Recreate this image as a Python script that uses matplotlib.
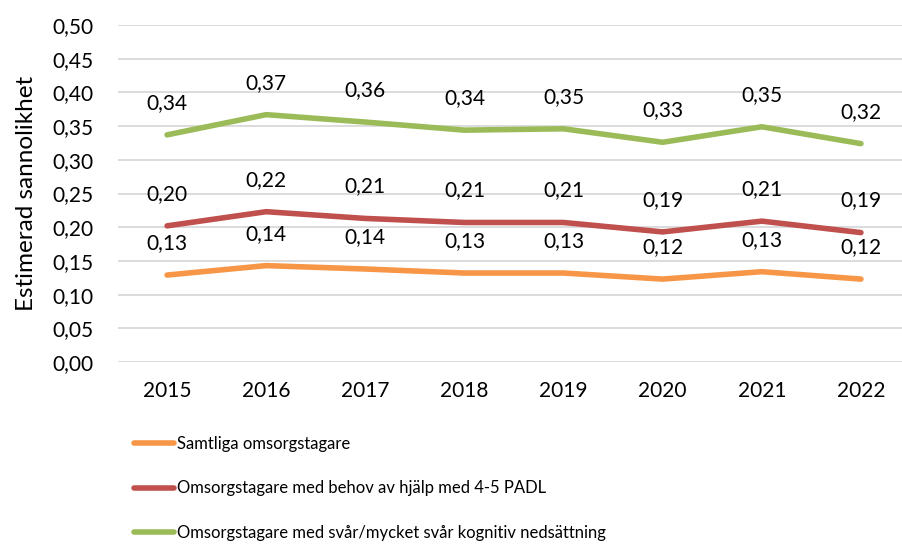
import matplotlib
matplotlib.use("Agg")
import matplotlib.pyplot as plt
import numpy as np

years = ["2015", "2016", "2017", "2018", "2019", "2020", "2021", "2022"]
samtliga = [0.129, 0.143, 0.138, 0.132, 0.132, 0.123, 0.134, 0.123]
padl = [0.202, 0.223, 0.213, 0.207, 0.207, 0.193, 0.209, 0.192]
kognitiv = [0.337, 0.367, 0.356, 0.344, 0.346, 0.326, 0.349, 0.324]

series_names = ["Samtliga omsorgstagare",
                "Omsorgstagare med behov av hjälp med 4-5 PADL",
                "Omsorgstagare med svår/mycket svår kognitiv nedsättning"]
colors = ["#F79646", "#C0504D", "#9BBB59"]

plt.rcParams['font.family'] = ['Lato', 'DejaVu Sans']
fs = 15

fig = plt.figure(figsize=(9.02, 5.47), dpi=100)
ax = fig.add_axes([117.5 / 902, 185 / 547, 793 / 902, 337 / 547])

x = np.arange(len(years))
for vals, name, c in zip([samtliga, padl, kognitiv], series_names, colors):
    ax.plot(x, vals, color=c, lw=4, solid_capstyle='round', solid_joinstyle='round', label=name, zorder=3)
    for xi, v in zip(x, vals):
        ax.annotate(f"{v:.2f}".replace(".", ","), (xi, v), xytext=(0, 32), textcoords='offset pixels',
                    ha='center', va='center', fontsize=fs, color='#000000')

ax.set_xlim(-0.5, 7.5)
ax.set_ylim(0, 0.5)
yt = np.arange(0, 0.501, 0.05)
ax.set_yticks(yt)
ax.set_yticklabels([f"{t:.2f}".replace(".", ",") for t in yt], fontsize=fs)
ax.set_xticks(x)
ax.set_xticklabels(years, fontsize=fs)
ax.tick_params(axis='both', length=0)
ax.tick_params(axis='y', pad=17)
ax.tick_params(axis='x', pad=14)
ax.grid(axis='y', color='#D9D9D9', lw=1.3, zorder=0)
for s in ax.spines.values():
    s.set_visible(False)
ax.set_ylabel("Estimerad sannolikhet", fontsize=17.5, labelpad=11)

fig.legend(loc='upper left', bbox_to_anchor=(134 / 902, 1 - 436 / 547), frameon=False,
           fontsize=12, handlelength=2.4, handletextpad=0.18, labelspacing=1.7, borderpad=0,
           borderaxespad=0)

fig.savefig("out.png", dpi=100)
